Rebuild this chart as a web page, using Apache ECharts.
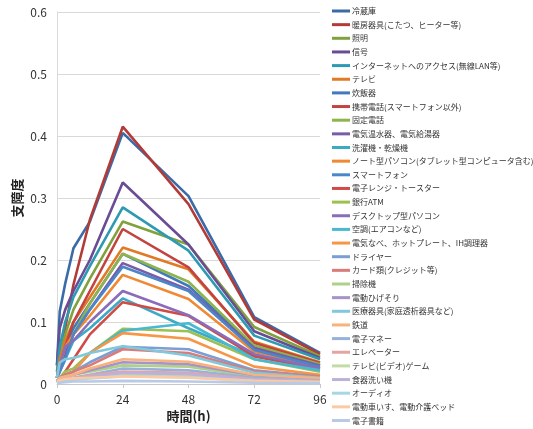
<!DOCTYPE html>
<html>
<head>
<meta charset="utf-8">
<script src="https://cdn.jsdelivr.net/npm/echarts@6/dist/echarts.min.js"></script>
<style>
  html, body { margin: 0; padding: 0; background: #fff; }
  #chart { width: 533px; height: 429px; }
</style>
</head>
<body>
<div id="chart"></div>
<script>
// Elapsed hours at which each item was sampled
const hours = [0, 1, 3, 6, 12, 24, 48, 72, 96];

const xTicks = [0, 24, 48, 72, 96];

// Item names (legend order)
const names = [
  '冷蔵庫', '暖房器具(こたつ、ヒーター等)', '照明', '信号',
  'インターネットへのアクセス(無線LAN等)', 'テレビ', '炊飯器',
  '携帯電話(スマートフォン以外)', '固定電話', '電気温水器、電気給湯器',
  '洗濯機・乾燥機', 'ノート型パソコン(タブレット型コンピュータ含む)',
  'スマートフォン', '電子レンジ・トースター', '銀行ATM', 'デスクトップ型パソコン',
  '空調(エアコンなど)', '電気なべ、ホットプレート、IH調理器', 'ドライヤー',
  'カード類(クレジット等)', '掃除機', '電動ひげそり', '医療器具(家庭透析器具など)',
  '鉄道', '電子マネー', 'エレベーター', 'テレビ(ビデオ)ゲーム', '食器洗い機',
  'オーディオ', '電動車いす、電動介護ベッド', '電子書籍'
];

// Disruption degree per item at each sampled hour
const reizouko    = [0.030, 0.117, 0.162, 0.219, 0.262, 0.405, 0.303, 0.108, 0.050];
const danbou      = [0.010, 0.040, 0.090, 0.160, 0.265, 0.415, 0.290, 0.104, 0.048];
const shoumei     = [0.020, 0.050, 0.080, 0.120, 0.170, 0.262, 0.225, 0.092, 0.045];
const shingou     = [0.030, 0.090, 0.120, 0.150, 0.200, 0.325, 0.225, 0.085, 0.042];
const internet    = [0.020, 0.060, 0.100, 0.140, 0.190, 0.285, 0.215, 0.078, 0.040];
const terebi      = [0.010, 0.040, 0.070, 0.100, 0.140, 0.220, 0.185, 0.068, 0.035];
const suihanki    = [0.010, 0.030, 0.060, 0.090, 0.130, 0.210, 0.158, 0.060, 0.030];
const keitai      = [0.010, 0.030, 0.060, 0.100, 0.150, 0.250, 0.188, 0.066, 0.034];
const koteiDenwa  = [0.010, 0.030, 0.050, 0.080, 0.130, 0.210, 0.165, 0.062, 0.032];
const onsuiki     = [0.010, 0.030, 0.050, 0.080, 0.120, 0.195, 0.152, 0.058, 0.030];
const sentakuki   = [0.010, 0.020, 0.040, 0.070, 0.090, 0.138, 0.090, 0.045, 0.025];
const notePc      = [0.010, 0.030, 0.060, 0.080, 0.110, 0.176, 0.137, 0.052, 0.027];
const smartphone  = [0.010, 0.020, 0.040, 0.080, 0.120, 0.189, 0.150, 0.055, 0.028];
const denshiRange = [0.005, 0.010, 0.020, 0.040, 0.080, 0.132, 0.110, 0.045, 0.024];
const atm         = [0.005, 0.010, 0.020, 0.025, 0.050, 0.089, 0.085, 0.040, 0.020];
const desktopPc   = [0.010, 0.030, 0.060, 0.070, 0.100, 0.150, 0.111, 0.048, 0.025];
const kuchou      = [0.005, 0.010, 0.015, 0.020, 0.050, 0.086, 0.098, 0.040, 0.022];
const denkiNabe   = [0.005, 0.010, 0.015, 0.020, 0.050, 0.082, 0.073, 0.028, 0.015];
const dryer       = [0.005, 0.010, 0.015, 0.020, 0.035, 0.060, 0.056, 0.022, 0.012];
const card        = [0.005, 0.010, 0.015, 0.020, 0.030, 0.056, 0.050, 0.020, 0.012];
const soujiki     = [0.003, 0.008, 0.012, 0.015, 0.020, 0.030, 0.028, 0.012, 0.008];
const higesori    = [0.003, 0.008, 0.012, 0.015, 0.022, 0.035, 0.032, 0.014, 0.008];
const iryou       = [0.010, 0.035, 0.040, 0.042, 0.050, 0.061, 0.046, 0.018, 0.010];
const tetsudou    = [0.005, 0.010, 0.012, 0.015, 0.025, 0.040, 0.036, 0.015, 0.009];
const denshiMoney = [0.003, 0.005, 0.008, 0.010, 0.015, 0.025, 0.022, 0.010, 0.006];
const elevator    = [0.003, 0.005, 0.008, 0.010, 0.014, 0.020, 0.018, 0.008, 0.005];
const game        = [0.002, 0.004, 0.006, 0.008, 0.010, 0.015, 0.014, 0.006, 0.004];
const shokki      = [0.002, 0.004, 0.006, 0.008, 0.012, 0.018, 0.016, 0.007, 0.004];
const audio       = [0.002, 0.004, 0.005, 0.007, 0.009, 0.012, 0.011, 0.005, 0.003];
const kurumaisu   = [0.004, 0.006, 0.008, 0.009, 0.010, 0.012, 0.010, 0.005, 0.003];
const denshiSho   = [0.001, 0.002, 0.003, 0.004, 0.004, 0.005, 0.004, 0.002, 0.001];

const values = [
  reizouko, danbou, shoumei, shingou, internet, terebi, suihanki, keitai,
  koteiDenwa, onsuiki, sentakuki, notePc, smartphone, denshiRange, atm,
  desktopPc, kuchou, denkiNabe, dryer, card, soujiki, higesori, iryou,
  tetsudou, denshiMoney, elevator, game, shokki, audio, kurumaisu, denshiSho
];

// Office-style palette cycling blue, red, green, purple, aqua, orange, lightening per round
const palette = [
  '#3a6aa8', '#b23b38', '#80a23e', '#6a4c95', '#2d9ab2', '#e07a24',
  '#4079bd', '#c2433f', '#8fb44b', '#7a5ba8', '#3aaac5', '#ef8933',
  '#4a86c8', '#d04a46', '#9cc152', '#8a6cb8', '#49b8d2', '#f79646',
  '#7b9ed4', '#d97c79', '#afd08a', '#a693c9', '#80c8dc', '#f9b27c',
  '#96b2dc', '#e3a4a2', '#c3dca7', '#bdb0d9', '#a5d7e6', '#fbc9a3',
  '#b9cae6'
];

const series = names.map((n, i) => ({
  name: n,
  type: 'line',
  data: hours.map((h, j) => [h, values[i][j]]),
  showSymbol: false,
  symbol: 'none',
  lineStyle: { width: 2.6, color: palette[i] },
  itemStyle: { color: palette[i] },
  z: 2 + i
}));

const chart = echarts.init(document.getElementById('chart'));
chart.setOption({
  animation: false,
  color: palette,
  textStyle: { fontFamily: '"Noto Sans CJK JP", "Noto Sans", sans-serif' },
  grid: { left: 57, right: 213, top: 12, bottom: 45, containLabel: false },
  legend: {
    orient: 'vertical',
    left: 332,
    top: 6,
    padding: 0,
    itemWidth: 18,
    itemHeight: 3,
    itemGap: 3.65,
    icon: 'rect',
    textStyle: { fontSize: 8, lineHeight: 10, color: '#333', padding: [0, 0, 0, -3] },
    data: names
  },
  xAxis: {
    type: 'value',
    min: 0, max: 96, interval: 24,
    name: '時間(h)',
    nameLocation: 'middle',
    nameGap: 25,
    nameTextStyle: { fontSize: 13, fontWeight: 'bold', color: '#222' },
    axisLine: { show: true, lineStyle: { color: '#c8c8c8' } },
    axisTick: { show: true, length: 4, lineStyle: { color: '#c8c8c8' } },
    axisLabel: {
      fontSize: 12, color: '#333', margin: 9,
      formatter: v => xTicks.includes(v) ? String(v) : ''
    },
    splitLine: { show: false }
  },
  yAxis: {
    type: 'value',
    min: 0, max: 0.6, interval: 0.1,
    name: '支障度',
    nameLocation: 'middle',
    nameGap: 33,
    nameRotate: 90,
    nameTextStyle: { fontSize: 13, fontWeight: 'bold', color: '#222' },
    axisLine: { show: true, lineStyle: { color: '#d9d9d9' } },
    axisTick: { show: false },
    axisLabel: {
      fontSize: 12, color: '#333', margin: 10,
      formatter: v => (Math.round(v * 10) / 10).toString()
    },
    splitLine: { show: true, lineStyle: { color: '#d9d9d9', width: 1 } }
  },
  series: series
});
</script>
</body>
</html>
